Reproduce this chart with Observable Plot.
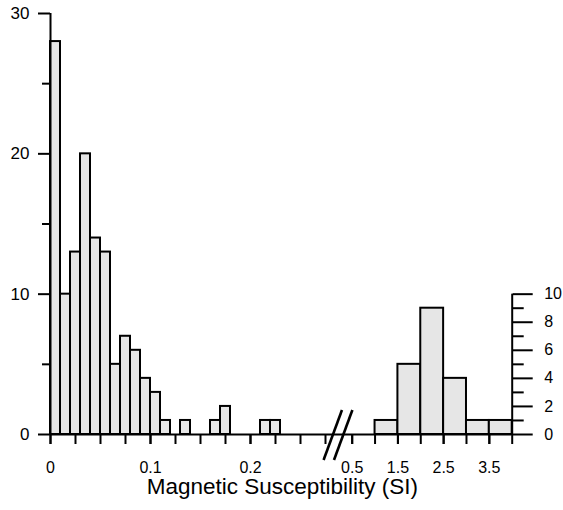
<!DOCTYPE html>
<html>
<head>
<meta charset="utf-8">
<script src="https://cdn.jsdelivr.net/npm/d3@7"></script>
<script src="https://cdn.jsdelivr.net/npm/@observablehq/plot@0.6"></script>
<style>
  body { margin: 0; background: #fff; }
  #chart svg { display: block; }
</style>
</head>
<body>
<div id="chart"></div>
<script>
// ---- Data ----
// Low-susceptibility histogram: bins of width 0.01 starting at these values
const lowBinStarts = [0, 0.01, 0.02, 0.03, 0.04, 0.05, 0.06, 0.07, 0.08, 0.09, 0.10,
                      0.11, 0.12, 0.13, 0.14, 0.15, 0.16, 0.17, 0.18, 0.19, 0.20, 0.21, 0.22];
const lowCounts    = [28, 10, 13, 20, 14, 13, 5, 7, 6, 4, 3,
                      1, 0, 1, 0, 0, 1, 2, 0, 0, 0, 1, 1];
const lowBinWidth = 0.01;

// High-susceptibility histogram: bins of width 0.5
const highBinStarts = [0.5, 1.0, 1.5, 2.0, 2.5, 3.0, 3.5];
const highCounts    = [0, 1, 5, 9, 4, 1, 1];
const highBinWidth = 0.5;

// Axis ticks and labels
const lowTicks = [0, 0.025, 0.05, 0.075, 0.1, 0.125, 0.15, 0.175, 0.2, 0.225, 0.25, 0.275];
const lowTickLabels = [0, 0.1, 0.2];
const highTicks = [0.5, 1.0, 1.5, 2.0, 2.5, 3.0, 3.5, 4.0];
const highTickLabels = [0.5, 1.5, 2.5, 3.5];
const leftYMajor = [0, 10, 20, 30];
const leftYMinor = [5, 15, 25];
const rightYMajor = [0, 2, 4, 6, 8, 10];
const rightYMinor = [1, 3, 5, 7, 9];
const xTitle = "Magnetic Susceptibility (SI)";

// ---- Build tables ----
const lowBins = lowBinStarts.map((s, i) => ({x1: s, x2: s + lowBinWidth, count: lowCounts[i]})).filter(d => d.count > 0);
const highBins = highBinStarts.map((s, i) => ({x1: s, x2: s + highBinWidth, count: highCounts[i]})).filter(d => d.count > 0);
const allTicks = lowTicks.concat(highTicks);
const allTickLabels = lowTickLabels.concat(highTickLabels);

const W = 563, H = 510;
const mL = 50, mR = 51.3, mT = 13, mB = 76;
const lowEnd = 0.28;      // end of the low (linear) segment
const highStart = 0.5;    // start of the high segment
const highEnd = 4;

// Axis-break marker drawn from the scales
function breakMark(index, scales, values, dimensions) {
  const x0 = scales.x(0.275), x1 = scales.x(highStart);
  const cx = (x0 + x1) / 2;
  const cy = scales.y(0);
  const g = d3.create("svg:g").attr("stroke", "black").attr("stroke-width", 2.6).attr("fill", "none");
  for (const off of [-5.2, 5.2]) {
    g.append("line")
      .attr("x1", cx + off - 0.368 * 26).attr("y1", cy + 26)
      .attr("x2", cx + off + 0.368 * 24).attr("y2", cy - 24);
  }
  return g.node();
}

const fmt = d => String(d);
const font = "'Liberation Sans', Arial, Helvetica, sans-serif";

const chart = Plot.plot({
  width: W,
  height: H,
  marginLeft: mL,
  marginRight: mR,
  marginTop: mT,
  marginBottom: mB,
  style: {fontFamily: font, fontSize: "16px", color: "black", background: "white"},
  x: {type: "linear", domain: [0, lowEnd, highStart, highEnd], range: [mL, mL + 280, 351.7, W - mR]},
  y: {domain: [0, 30], range: [H - mB, mT]},
  marks: [
    Plot.rectY(lowBins, {x1: "x1", x2: "x2", y: "count", fill: "#e6e6e6", stroke: "black", strokeWidth: 2}),
    Plot.rectY(highBins, {x1: "x1", x2: "x2", y: "count", fill: "#e6e6e6", stroke: "black", strokeWidth: 2}),
    // axis lines
    Plot.ruleY([0], {x1: 0, x2: highEnd, stroke: "black", strokeWidth: 2}),
    Plot.ruleX([0], {y1: 0, y2: 30, stroke: "black", strokeWidth: 2}),
    Plot.ruleX([highEnd], {y1: 0, y2: 10, stroke: "black", strokeWidth: 2}),
    // x axis: all ticks (no text), then labels
    Plot.axisX({ticks: allTicks, tickSize: 10, strokeWidth: 2, fill: "none", label: null}),
    Plot.axisX({ticks: allTickLabels, tickSize: 10, tickPadding: 17, strokeWidth: 2, label: null,
      tickFormat: fmt, fontSize: 16}),
    // left y axis
    Plot.axisY({ticks: leftYMajor, anchor: "left", tickSize: 12, tickPadding: 9, strokeWidth: 2, label: null,
      tickFormat: fmt, fontSize: 17}),
    Plot.axisY({ticks: leftYMinor, anchor: "left", tickSize: 8, strokeWidth: 2, fill: "none", label: null}),
    // right y axis
    Plot.axisY({ticks: rightYMajor, anchor: "right", tickSize: 20, tickPadding: 12, strokeWidth: 2, label: null,
      tickFormat: fmt, fontSize: 16}),
    Plot.axisY({ticks: rightYMinor, anchor: "right", tickSize: 11, strokeWidth: 2, fill: "none", label: null}),
    // title
    Plot.text([xTitle], {text: d => d, frameAnchor: "bottom", dy: 59, dx: 1, fontSize: 22.5}),
    breakMark
  ]
});

document.getElementById("chart").appendChild(chart);
</script>
</body>
</html>
